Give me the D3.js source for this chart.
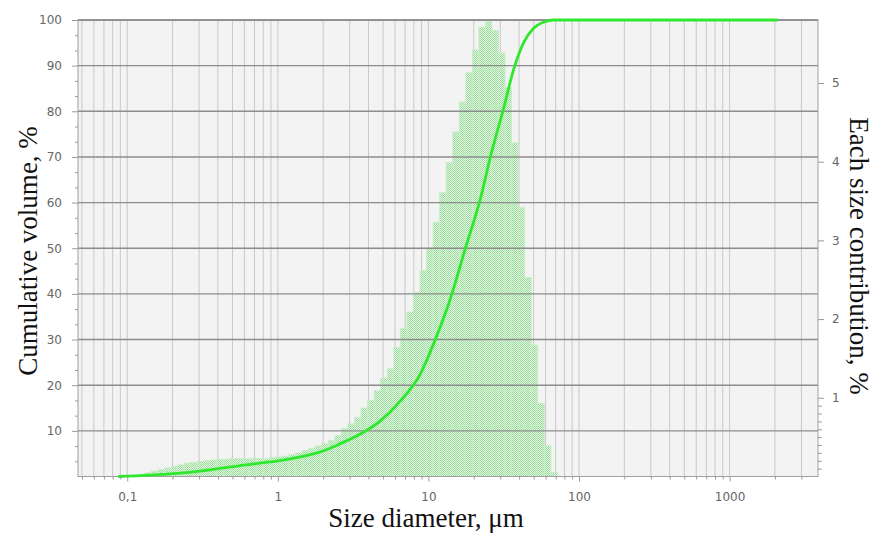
<!DOCTYPE html>
<html><head><meta charset="utf-8">
<script src="https://cdn.jsdelivr.net/npm/d3@7"></script>
<style>body{margin:0;background:#fff}svg{display:block}</style>
</head><body>
<svg id="chart" width="873" height="534"></svg>
<script>
// ---------- data ----------
const xTickValues = [0.1, 1, 10, 100, 1000];
const xTickLabels = ["0,1", "1", "10", "100", "1000"];
const leftTickValues = [10, 20, 30, 40, 50, 60, 70, 80, 90, 100];
const rightTickValues = [1, 2, 3, 4, 5];
// histogram bins: geometric bins starting at binFirstEdge (μm), binsPerDecade per decade
const binFirstEdge = 0.0971;
const binsPerDecade = 23;
// each size contribution, % (one value per bin)
const contribution = [
  0.01, 0.02, 0.03, 0.05, 0.07, 0.09, 0.11, 0.13, 0.15, 0.17,
  0.18, 0.19, 0.20, 0.21, 0.22, 0.22, 0.23, 0.23, 0.23, 0.23,
  0.23, 0.23, 0.24, 0.25, 0.26, 0.28, 0.30, 0.33, 0.36, 0.39,
  0.42, 0.46, 0.52, 0.61, 0.67, 0.75, 0.87, 0.97, 1.09, 1.25,
  1.37, 1.64, 1.88, 2.09, 2.34, 2.62, 2.91, 3.23, 3.61, 3.99,
  4.38, 4.76, 5.13, 5.42, 5.71, 5.78, 5.67, 5.38, 4.94, 4.24,
  3.42, 2.53, 1.67, 0.93, 0.39, 0.05
];
// cumulative volume curve
const curveSize = [0.087, 0.142, 0.305, 0.563, 1.0, 1.41, 1.92, 2.6, 3.53, 4.8, 6.5, 8.85, 10.8, 14, 17.6, 22.2, 25.8, 31.5, 36.7, 42.8, 49.9, 58, 67.6, 2090];
const curveCum  = [0,     0.3,   1.2,   2.4,   3.4, 4.3,  5.4,  7.2, 9.3,  12.2, 16.5, 22.5, 29,   39, 50,   61,   70,   80.5, 89,   95,   98.2, 99.5, 100, 100];

// ---------- layout ----------
const svg = d3.select("#chart");
const L = 78, R = 818, T = 20, B = 476.5;
const x = d3.scaleLog().domain([0.0471, 3864]).range([L, R]);
const yL = d3.scaleLinear().domain([0, 100]).range([B, T]);
const yR = d3.scaleLinear().domain([0, 5.8]).range([B, T]);

const defs = svg.append("defs");
const pat = defs.append("pattern").attr("id", "chk").attr("patternUnits", "userSpaceOnUse")
  .attr("width", 2).attr("height", 2);
pat.append("rect").attr("width", 2).attr("height", 2).attr("fill", "#e6f6e6");
pat.append("rect").attr("x", 0).attr("y", 0).attr("width", 1).attr("height", 1).attr("fill", "#97dd97");
pat.append("rect").attr("x", 1).attr("y", 1).attr("width", 1).attr("height", 1).attr("fill", "#97dd97");

// plot background
svg.append("rect").attr("x", L).attr("y", T).attr("width", R - L).attr("height", B - T).attr("fill", "#f3f3f3");

// vertical log grid
const gridVals = [];
for (let e = -2; e <= 3; e++) for (let m = 1; m <= 9; m++) {
  const v = m * Math.pow(10, e);
  if (v > x.domain()[0] && v < x.domain()[1]) gridVals.push(v);
}
svg.append("g").selectAll("line").data(gridVals).join("line")
  .attr("x1", d => x(d)).attr("x2", d => x(d)).attr("y1", T).attr("y2", B)
  .attr("stroke", "#c9c9c9").attr("stroke-width", 1);

// bars
const bars = contribution.map((v, i) => ({
  x0: binFirstEdge * Math.pow(10, i / binsPerDecade),
  x1: binFirstEdge * Math.pow(10, (i + 1) / binsPerDecade),
  v
}));
svg.append("g").selectAll("rect").data(bars).join("rect")
  .attr("x", d => x(d.x0)).attr("width", d => x(d.x1) - x(d.x0))
  .attr("y", d => yR(d.v)).attr("height", d => yR(0) - yR(d.v))
  .attr("fill", "url(#chk)").attr("stroke", "#c8eec8").attr("stroke-width", 0.7);

// horizontal grid
svg.append("g").selectAll("line").data(leftTickValues).join("line")
  .attr("x1", L).attr("x2", R).attr("y1", d => yL(d)).attr("y2", d => yL(d))
  .attr("stroke", "#8c8c8c").attr("stroke-width", 1.4);

// frame
svg.append("rect").attr("x", L).attr("y", T).attr("width", R - L).attr("height", B - T)
  .attr("fill", "none").attr("stroke", "#a0a0a0").attr("stroke-width", 1);
svg.append("line").attr("x1", L).attr("x2", R).attr("y1", T).attr("y2", T)
  .attr("stroke", "#8c8c8c").attr("stroke-width", 1.4);

// cumulative curve
const pts = curveSize.map((s, i) => [s, curveCum[i]]);
svg.append("path").datum(pts)
  .attr("d", d3.line().x(d => x(d[0])).y(d => yL(d[1])).curve(d3.curveMonotoneX))
  .attr("fill", "none").attr("stroke", "#2ee82e").attr("stroke-width", 2.8).attr("stroke-linejoin", "round");

// axes
function styleAxis(g) {
  g.select(".domain").remove();
  g.selectAll("line").attr("stroke", "#9a9a9a");
  g.selectAll("text").attr("fill", "#666").style("font-family", "DejaVu Sans").style("font-size", "12px");
}
const minorLeft = d3.range(0, 100.01, 10 / 3).filter(v => Math.abs(v / 10 - Math.round(v / 10)) > 0.01);
svg.append("g").attr("transform", `translate(${L},0)`)
  .call(d3.axisLeft(yL).tickValues(minorLeft).tickSize(3).tickFormat(""))
  .call(styleAxis);
svg.append("g").attr("transform", `translate(${L},0)`)
  .call(d3.axisLeft(yL).tickValues(leftTickValues).tickSize(6).tickPadding(10).tickFormat(d3.format("d")))
  .call(styleAxis);

const minorRight = d3.range(0.1, 1, 0.1);
svg.append("g").attr("transform", `translate(${R},0)`)
  .call(d3.axisRight(yR).tickValues(minorRight).tickSize(4).tickFormat(""))
  .call(styleAxis);
svg.append("g").attr("transform", `translate(${R},0)`)
  .call(d3.axisRight(yR).tickValues(rightTickValues).tickSize(6).tickPadding(8).tickFormat(d3.format("d")))
  .call(styleAxis);

svg.append("g").attr("transform", `translate(0,${B})`)
  .call(d3.axisBottom(x).tickValues(gridVals.filter(v => xTickValues.indexOf(v) < 0)).tickSize(3).tickFormat(""))
  .call(styleAxis);
svg.append("g").attr("transform", `translate(0,${B})`)
  .call(d3.axisBottom(x).tickValues(xTickValues).tickSize(5).tickPadding(11).tickFormat((d, i) => xTickLabels[i]))
  .call(styleAxis);

// titles
const titleFont = "Liberation Serif, Times New Roman, serif";
svg.append("text").attr("transform", "translate(37,251) rotate(-90)")
  .attr("text-anchor", "middle").style("font-family", titleFont).style("font-size", "27px").attr("fill", "#111")
  .text("Cumulative volume, %");
svg.append("text").attr("transform", "translate(850,256) rotate(90)")
  .attr("text-anchor", "middle").style("font-family", titleFont).style("font-size", "27px").attr("fill", "#111")
  .text("Each size contribution, %");
svg.append("text").attr("x", 426).attr("y", 527)
  .attr("text-anchor", "middle").style("font-family", titleFont).style("font-size", "27px").attr("fill", "#111")
  .text("Size diameter, μm");
</script>
</body></html>
